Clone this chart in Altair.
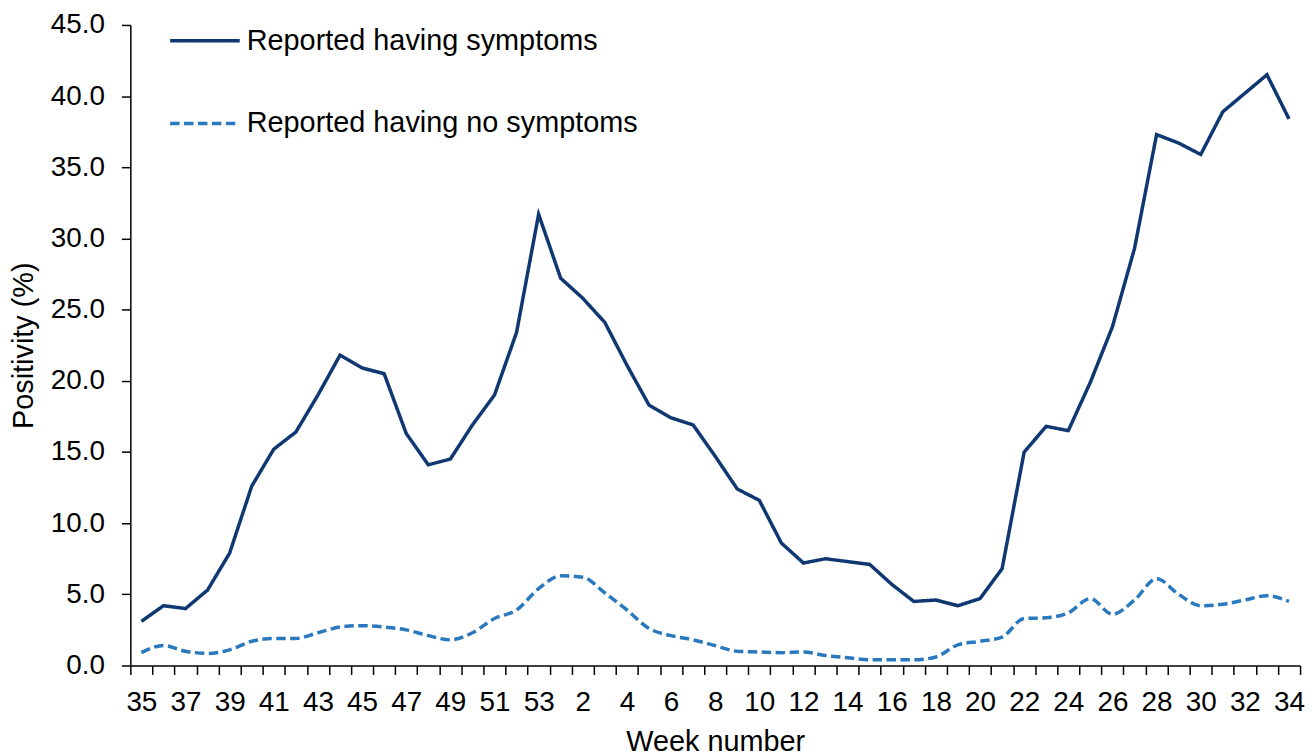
import altair as alt
import pandas as pd

weeks = ["35", "36", "37", "38", "39", "40", "41", "42", "43", "44", "45", "46",
         "47", "48", "49", "50", "51", "52", "53",
         "1", "2", "3", "4", "5", "6", "7", "8", "9", "10", "11", "12", "13", "14",
         "15", "16", "17", "18", "19", "20", "21", "22", "23", "24", "25", "26",
         "27", "28", "29", "30", "31", "32", "33", "34"]

symptoms = [3.1, 4.2, 4.0, 5.3, 7.9, 12.6, 15.2, 16.4, 19.0, 21.8,
            20.9, 20.5, 16.3, 14.1, 14.5, 16.9, 19.0, 23.4, 31.7, 27.2,
            25.8, 24.1, 21.1, 18.3, 17.4, 16.9, 14.7, 12.4, 11.6, 8.6,
            7.2, 7.5, 7.3, 7.1, 5.7, 4.5, 4.6, 4.2, 4.7, 6.8,
            15.0, 16.8, 16.5, 19.9, 23.8, 29.3, 37.3, 36.7, 35.9, 38.9,
            40.2, 41.5, 38.4]

no_symptoms = [0.9, 1.4, 1.0, 0.85, 1.1, 1.7, 1.9, 1.9, 2.3, 2.7,
               2.8, 2.7, 2.5, 2.1, 1.8, 2.3, 3.3, 3.9, 5.4, 6.3,
               6.2, 5.1, 3.9, 2.6, 2.1, 1.8, 1.4, 1.0, 0.95, 0.9,
               0.95, 0.7, 0.55, 0.4, 0.4, 0.4, 0.6, 1.45, 1.7, 2.0,
               3.3, 3.35, 3.7, 4.7, 3.6, 4.6, 6.1, 5.0, 4.2, 4.3,
               4.6, 4.9, 4.5]

series_names = ["Reported having symptoms", "Reported having no symptoms"]
series_colors = ["#0f3872", "#2a78be"]
series_dashes = [[1, 0], [9.5, 4.5]]
series_interp = ["linear", "monotone"]

shown_week_labels = weeks[0::2]
y_ticks = [0, 5, 10, 15, 20, 25, 30, 35, 40, 45]

n = len(weeks)
df = pd.DataFrame({
    "week": weeks + weeks,
    "order": list(range(n)) + list(range(n)),
    "series": [series_names[0]] * n + [series_names[1]] * n,
    "value": symptoms + no_symptoms,
})

FONT = "Liberation Sans"

label_list = "[" + ",".join("'" + w + "'" for w in shown_week_labels) + "]"

x_enc = alt.X(
    "week:N",
    sort=weeks,
    bandPosition=0.5,
    scale=alt.Scale(type="band", domain=weeks, paddingInner=0, paddingOuter=0),
    axis=alt.Axis(
        title="Week number",
        tickBand="extent",
        labelAngle=0,
        labelExpr="indexof(" + label_list + ", datum.value) >= 0 ? datum.value : ''",
        labelFontSize=28,
        labelPadding=14,
        labelOverlap=False,
        titleFontSize=29,
        titleX=588,
        titleY=85,
        titleBaseline="alphabetic",
        titleAlign="center",
    ),
)

y_enc = alt.Y(
    "value:Q",
    scale=alt.Scale(domain=[0, 45], nice=False),
    axis=alt.Axis(
        values=y_ticks,
        format=".1f",
        grid=False,
        title="Positivity (%)",
        labelFontSize=28,
        labelPadding=17,
        titleFontSize=29,
        titleX=-98,
        titleY=322,
        titleAngle=-90,
        titleBaseline="alphabetic",
        titleAlign="center",
    ),
)

legend = alt.Legend(
    title=None,
    orient="none",
    legendX=38,
    legendY=-21,
    direction="vertical",
    symbolType="stroke",
    symbolSize=4900,
    symbolStrokeWidth=3.5,
    labelFontSize=29,
    labelFont=FONT,
    labelColor="black",
    labelOffset=5,
    labelLimit=0,
    rowPadding=31,
    padding=0,
)

color_enc = alt.Color("series:N",
                      scale=alt.Scale(domain=series_names, range=series_colors),
                      legend=legend)
dash_enc = alt.StrokeDash("series:N",
                          scale=alt.Scale(domain=series_names, range=series_dashes),
                          legend=legend)

base = alt.Chart(df).encode(
    x=x_enc, y=y_enc, color=color_enc, strokeDash=dash_enc,
    order=alt.Order("order:Q"),
)

layers = []
for name, interp in zip(series_names, series_interp):
    layers.append(
        base.transform_filter(alt.datum.series == name)
        .mark_line(strokeWidth=3.5, interpolate=interp)
    )

chart = (
    alt.layer(*layers)
    .properties(
        width=1176,
        height=644,
        autosize=alt.AutoSizeParams(type="none"),
        padding={"left": 123, "top": 15, "right": 8, "bottom": 98},
    )
    .configure_axis(
        domainColor="black",
        tickColor="black",
        labelColor="black",
        titleColor="black",
        labelFont=FONT,
        titleFont=FONT,
        titleFontWeight="normal",
        domainWidth=1.5,
        tickWidth=1.5,
        tickSize=9,
    )
    .configure_view(stroke=None)
)

chart.save("out.html", embed_options={"renderer": "svg", "actions": False})
